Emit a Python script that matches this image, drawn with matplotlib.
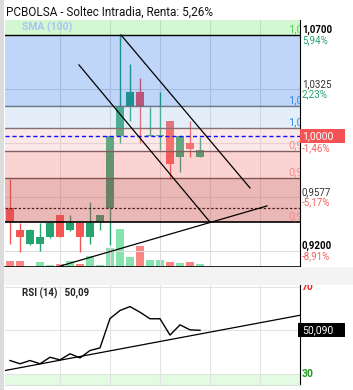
import numpy as np
import matplotlib.pyplot as plt
from matplotlib.patches import Rectangle
import matplotlib.transforms as mtransforms

plt.rcParams['font.family'] = ['Roboto', 'DejaVu Sans']

# data
opens  = [0.9499, 0.9346, 0.9249, 0.9249, 0.9299, 0.9450, 0.9346, 0.9397, 0.9299, 0.9399,
          0.9497, 1.0000, 1.0202, 1.0306, 1.0000, 1.0000, 1.0103, 0.9855, 0.9952, 0.9855]
highs  = [0.9700, 0.9394, 0.9353, 0.9394, 0.9401, 0.9450, 0.9450, 0.9397, 0.9542, 0.9450,
          1.0000, 1.0700, 1.0499, 1.0399, 1.0200, 1.0306, 1.0105, 1.0000, 1.0103, 0.9995]
lows   = [0.9249, 0.9195, 0.9242, 0.9200, 0.9290, 0.9297, 0.9339, 0.9195, 0.9249, 0.9346,
          0.9242, 0.9950, 1.0105, 0.9950, 1.0000, 0.9901, 0.9698, 0.9747, 0.9851, 0.9853]
closes = [0.9401, 0.9299, 0.9346, 0.9299, 0.9397, 0.9299, 0.9397, 0.9299, 0.9397, 0.9450,
          1.0000, 1.0202, 1.0306, 1.0202, 1.0000, 1.0000, 0.9802, 1.0000, 0.9906, 0.9901]
volumes = [63, 63, 5, 47, 20, 30, 63, 30, 110, 20, 190, 380, 97, 210, 70, 70, 50, 37, 50, 30]
rsi = [36.2, 34.7, 36.2, 34.7, 37.7, 36.5, 39.3, 37.4, 40.8, 42.0,
       55.5, 59.2, 61.0, 58.4, 55.4, 55.4, 47.9, 52.6, 50.3, 50.09]

day_labels = ['15', '16', '17', '20', '21']
day_pos = [4.3, 9.3, 14.3, 19.4, 24.4]
grid_x = [5, 10, 15, 20, 25]

price_ticks = [1.0700, 1.0325, 0.9950, 0.9577, 0.9200]
price_labels = ['1,0700', '1,0325', '', '0,9577', '0,9200']
pct_labels = ['5,94%', '2,23%', '-1,46%', '-5,17%', '-8,91%']

fib_levels = [1.0700, 1.0204, 1.0051, 0.9894, 0.9707, 0.9401]
fib_text = ['1,0', '1,0', '1,0', '0,9', '0,9', '0,9']
last_price = 1.0000
dotted_level = 0.9499

# trend lines (candle index, price)
trend1 = ([6.9, 20.0], [1.0492, 0.9401])
trend2 = ([11.1, 24.0], [1.0700, 0.9638])
trend3 = ([4.7, 25.7], [0.9089, 0.9513])
rsi_trend = ([-0.5, 29.0], [31.6, 57.0])

green = '#26a36f'
red = '#f75454'
vgreen = '#86e3ad'
vred = '#fb8585'

fig = plt.figure(figsize=(3.53, 3.90), dpi=100)
W, H = 353, 390

def box(l, t, r, b):
    return [l / W, 1 - b / H, (r - l) / W, (b - t) / H]

ax = fig.add_axes(box(5, 20, 300, 267))
ax2 = fig.add_axes(box(5, 285, 300, 385), sharex=ax)

x = np.arange(len(opens))
ax.set_xlim(-0.5, 29.0)
ax.set_ylim(0.9089, 1.0804)

# volume on twin axis
axv = ax.twinx()
axv.set_ylim(0, 2470)
vcol = [vgreen if c >= o else vred for o, c in zip(opens, closes)]
axv.bar(x, volumes, width=0.8, color=vcol, zorder=1)
axv.set_yticks([])
for s in axv.spines.values():
    s.set_visible(False)
ax.set_zorder(axv.get_zorder() + 1)
ax.patch.set_visible(False)
axv.set_zorder(0)

# candles
for i in range(len(opens)):
    col = green if closes[i] >= opens[i] else red
    ax.vlines(x[i], lows[i], highs[i], color=col, lw=1.0, zorder=2)
    lo = min(opens[i], closes[i])
    h = max(abs(closes[i] - opens[i]), 0.0004)
    ax.add_patch(Rectangle((x[i] - 0.4, lo), 0.8, h, color=col, lw=0, zorder=2))

# fib lines under bands
for lv in fib_levels[1:-1]:
    ax.axhline(lv, color='#555555', lw=1.0, zorder=2.5)
ax.axhline(dotted_level, color='black', lw=0.9, ls=(0, (2, 1.5)), zorder=2.5)

# fib bands (semi transparent, over candles)
band_cols = [(0.0, 0.36, 0.92, 0.25), (0.64, 0.78, 0.93, 0.3), (0.97, 0.70, 0.70, 0.3),
             (0.97, 0.44, 0.44, 0.3), (0.81, 0.31, 0.31, 0.4)]
for k in range(len(fib_levels) - 1):
    ax.axhspan(fib_levels[k + 1], fib_levels[k], color=band_cols[k], lw=0, zorder=3)
ax.axhspan(fib_levels[0], 1.0804, color=(0.44, 0.89, 0.44, 0.3), lw=0, zorder=3)
ax.axhline(fib_levels[0], color='black', lw=1.0, zorder=3.5)
ax.axhline(fib_levels[-1], color='black', lw=1.2, zorder=3.5)

fib_cols = ['#5bd35b', '#3f8be8', '#3f8be8', '#f48a8a', '#f48a8a', '#f48a8a']
for lv, t, c in zip(fib_levels, fib_text, fib_cols):
    ax.text(27.8, lv + 0.0008, t, color=c, fontsize=8, ha='left', va='bottom',
            zorder=4, clip_on=True)

ax.text(1.2, 1.0752, 'SMA (100)', color='#a6c7f2', fontsize=7.5, fontweight='bold',
        va='center', zorder=4)

# current price line
ax.axhline(last_price, color='#1010ff', lw=1.0, ls=(0, (3, 2)), zorder=4)

for tx, ty in (trend1, trend2, trend3):
    ax.plot(tx, ty, color='black', lw=0.9, zorder=5)

# grid
ax.set_yticks(price_ticks)
ax.set_yticklabels([])
ax.tick_params(axis='y', length=0)
ax.set_xticks(grid_x)
ax.set_xticklabels([])
ax.set_xticks(day_pos, minor=True)
ax.set_xticklabels(day_labels, minor=True, fontsize=7, color='#333333')
ax.tick_params(axis='x', which='both', length=0, pad=3.5)
ax.grid(True, color='#dedede', lw=0.8, zorder=0)
ax.set_axisbelow(True)
for s in ['top', 'left']:
    ax.spines[s].set_visible(False)
ax.spines['right'].set_color('black')
ax.spines['bottom'].set_color('black')
ax.spines['bottom'].set_linewidth(1.2)

# right axis labels
tr = mtransforms.blended_transform_factory(ax.transAxes, ax.transData)
for p, pl, pc in zip(price_ticks, price_labels, pct_labels):
    bold = p in (price_ticks[0], price_ticks[-1])
    if pl:
        ax.annotate(pl, (1.0, p), xycoords=tr, xytext=(1.4, 3.6), textcoords='offset points',
                    fontsize=7, color='black' if bold else '#333333',
                    fontweight='bold' if bold else 'normal', va='center', ha='left',
                    annotation_clip=False)
    ax.annotate(pc, (1.0, p), xycoords=tr, xytext=(1.4, -3.6), textcoords='offset points',
                fontsize=7, color=green if not pc.startswith('-') else '#f06262',
                va='center', ha='left', annotation_clip=False)

ax.add_patch(Rectangle((1.0, last_price - 0.0047), 45 / 295, 0.0094, transform=tr,
                       color='#f55353', lw=0, clip_on=False, zorder=6))
ax.text(1.0 + 2 / 295, last_price, '1,0000', transform=tr, color='white', fontsize=7.5,
        va='center', ha='left', zorder=7, clip_on=False)

# RSI panel
ax2.set_ylim(24.94, 70.92)
ax2.axhspan(24.94, 30, color='#e2fbe2', lw=0, zorder=0)
ax2.plot(x, rsi, color='black', lw=1.0, zorder=3)
ax2.plot(rsi_trend[0], rsi_trend[1], color='black', lw=0.9, zorder=3)
ax2.set_yticks([30, 50, 70])
ax2.set_yticklabels([])
ax2.tick_params(axis='both', which='both', length=0, labelbottom=False)
ax2.grid(True, color='#e3e3e3', lw=0.8, zorder=0)
ax2.set_axisbelow(True)
for s in ['top', 'left']:
    ax2.spines[s].set_visible(False)
ax2.spines['bottom'].set_color('#dddddd')
ax2.spines['right'].set_color('black')
ax2.text(1.2, 67.2, 'RSI (14)   50,09', fontsize=7, fontweight='bold', color='#222222',
         va='center')
tr2 = mtransforms.blended_transform_factory(ax2.transAxes, ax2.transData)
ax2.text(1.0 + 2 / 295, 70, '70', transform=tr2, color='#ee2222', fontsize=7.5,
         fontweight='bold', va='center', clip_on=False)
ax2.text(1.0 + 2 / 295, 30, '30', transform=tr2, color='#1b9a1b', fontsize=7.5,
         fontweight='bold', va='center', clip_on=False)
ax2.add_patch(Rectangle((1.0 - 2 / 295, rsi[-1] - 3.2), 47 / 295, 6.4, transform=tr2,
                        color='black', lw=0, clip_on=False, zorder=6))
ax2.text(1.0 + 2 / 295, rsi[-1], '50,090', transform=tr2, color='white', fontsize=7.5,
         va='center', zorder=7, clip_on=False)

# frame pieces
fig.patches.append(Rectangle((0, 1 - 285 / H), 1, 18 / H, transform=fig.transFigure,
                             color='#f3f3f3', lw=0, zorder=10))
fig.patches.append(Rectangle((0, 0), 4 / W, 1, transform=fig.transFigure,
                             color='#dcdcdc', lw=0, zorder=10))
fig.text(6 / W, 1 - 12 / H, 'PCBOLSA - Soltec Intradia, Renta: 5,26%', fontsize=8.5,
         color='#111111', va='center', ha='left')

fig.savefig('out.png', dpi=100)
